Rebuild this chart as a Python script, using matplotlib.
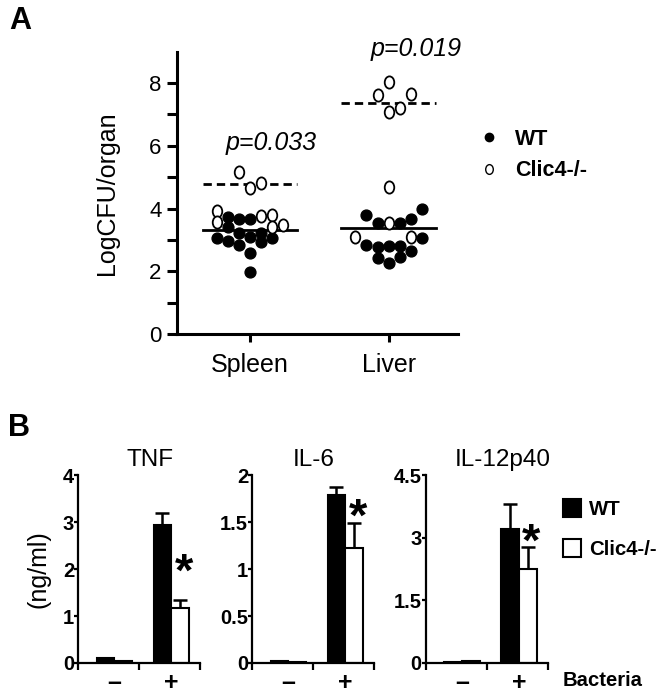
"""Figura: carga bacteriana en bazo/hígado (A) y citocinas (B), WT vs Clic4-/-."""

import matplotlib

matplotlib.use("Agg")
import matplotlib.pyplot as plt
import numpy as np
from matplotlib.lines import Line2D
from matplotlib.patches import Patch
from matplotlib.path import Path

plt.rcParams["font.family"] = ["Liberation Sans", "DejaVu Sans"]

# ---------------- Panel A: LogCFU/organ ----------------
organos = ["Spleen", "Liver"]

# columna del "beeswarm" (entero) y valor de cada ratón
spleen_wt_col = [-2, -1, 0, -2, -3, -2, -1, -1, 0, 0, 0, 1, 1, 2]
spleen_wt_y = [3.74, 3.68, 3.68, 3.42, 3.05, 2.97, 3.21, 2.83, 3.10, 2.59, 1.98, 3.21, 2.94, 3.05]
spleen_ko_col = [-3, -3, 1, 2, 2, 3, -1, 0, 1]
spleen_ko_y = [3.93, 3.58, 3.76, 3.79, 3.40, 3.47, 5.17, 4.66, 4.83]
liver_wt_col = [-2, -1, 1, 2, 3, 3, -2, -1, 0, 1, 2, -1, 0, 1]
liver_wt_y = [3.79, 3.54, 3.54, 3.65, 4.00, 3.05, 2.83, 2.76, 2.80, 2.80, 2.65, 2.41, 2.27, 2.44]
liver_ko_col = [0, 0, -3, 2, 0, -1, 2, 0, 1]
liver_ko_y = [4.69, 3.54, 3.10, 3.10, 8.04, 7.61, 7.64, 7.08, 7.22]

linea_wt = [3.33, 3.39]   # línea continua (WT)
linea_ko = [4.77, 7.37]   # línea discontinua (Clic4-/-)
p_valores = ["p=0.033", "p=0.019"]

# ---------------- Panel B: citocinas ----------------
bacterias = ["\u2013", "+"]
citocinas = ["TNF", "IL-6", "IL-12p40"]
wt_media = {"TNF": [0.10, 2.93], "IL-6": [0.02, 1.79], "IL-12p40": [0.02, 3.22]}
wt_err = {"TNF": [0.0, 0.27], "IL-6": [0.0, 0.08], "IL-12p40": [0.0, 0.60]}
ko_media = {"TNF": [0.05, 1.18], "IL-6": [0.01, 1.23], "IL-12p40": [0.04, 2.25]}
ko_err = {"TNF": [0.0, 0.17], "IL-6": [0.0, 0.26], "IL-12p40": [0.0, 0.52]}
yticks_b = {"TNF": [0, 1, 2, 3, 4], "IL-6": [0, 0.5, 1, 1.5, 2], "IL-12p40": [0, 1.5, 3, 4.5]}
ytick_lbl = {"TNF": ["0", "1", "2", "3", "4"], "IL-6": ["0", "0.5", "1", "1.5", "2"],
             "IL-12p40": ["0", "1.5", "3", "4.5"]}
estrella_y = {"TNF": 2.1, "IL-6": 1.64, "IL-12p40": 3.09}
titulo_x = {"TNF": 0.59, "IL-6": 0.5, "IL-12p40": 0.63}

# marcador elíptico abierto (los círculos abiertos son algo más altos que anchos)
circ = Path.unit_circle()
elipse = Path(circ.vertices * np.array([0.78, 1.0]), circ.codes)

fig = plt.figure(figsize=(6.64, 7.0), dpi=100)

# ================= Panel A =================
axA = fig.add_axes([0.2666, 0.523, 0.4232, 0.403])
paso = 0.08
for i, (wc, wy, kc, ky) in enumerate([
    (spleen_wt_col, spleen_wt_y, spleen_ko_col, spleen_ko_y),
    (liver_wt_col, liver_wt_y, liver_ko_col, liver_ko_y),
]):
    xc = i + 1
    axA.plot(xc + paso * np.array(wc), wy, "o", ms=7.8, color="black", zorder=3)
    axA.plot(xc + paso * np.array(kc), ky, ls="none", marker=elipse, ms=8.8,
             mfc="white", mec="black", mew=1.3, zorder=4)
    axA.plot([xc - 0.34, xc + 0.34], [linea_wt[i]] * 2, color="black", lw=2, zorder=2)
    axA.plot([xc - 0.34, xc + 0.34], [linea_ko[i]] * 2, color="black", lw=2,
             ls=(0, (3, 1.8)), zorder=2)

axA.text(1.15, 6.08, p_valores[0], style="italic", fontsize=18, ha="center", va="center")
axA.text(2.2, 9.1, p_valores[1], style="italic", fontsize=18, ha="center", va="center",
         clip_on=False)

axA.set_xlim(0.475, 2.5)
axA.set_ylim(0, 9)
axA.set_xticks([1, 2])
axA.set_xticklabels(organos, fontsize=18)
axA.set_yticks([0, 2, 4, 6, 8])
axA.set_yticks([1, 3, 5, 7], minor=True)
axA.tick_params(axis="y", labelsize=16, width=2.2, length=7, pad=4)
axA.tick_params(axis="y", which="minor", width=2.2, length=7)
axA.tick_params(axis="x", width=2.2, length=6, pad=8)
axA.set_ylabel("LogCFU/organ", fontsize=18, labelpad=22)
for s in ["top", "right"]:
    axA.spines[s].set_visible(False)
for s in ["left", "bottom"]:
    axA.spines[s].set_linewidth(2.2)

leyA = [
    Line2D([], [], ls="none", marker="o", ms=6, color="black", label="WT"),
    Line2D([], [], ls="none", marker=elipse, ms=7, mfc="white", mec="black", mew=1,
           label="Clic4-/-"),
]
fig.legend(handles=leyA, loc="center left", bbox_to_anchor=(467 / 664, 1 - 155 / 700),
           frameon=False, handlelength=1.0, handletextpad=0.75, labelspacing=0.5,
           borderpad=0, prop={"weight": "bold", "size": 15.5})

fig.text(20 / 664, 1 - 21 / 700, "A", fontsize=22, fontweight="bold", ha="center", va="center")
fig.text(19 / 664, 1 - 428 / 700, "B", fontsize=22, fontweight="bold", ha="center", va="center")

# ================= Panel B =================
izq = [78.3, 252.3, 426.0]
x = np.arange(len(bacterias))
ancho = 0.31
for j, cit in enumerate(citocinas):
    ax = fig.add_axes([izq[j] / 664, 0.053, 122 / 664, 0.268])
    ax.bar(x - ancho / 2, wt_media[cit], ancho, color="black", edgecolor="black", lw=1.5,
           zorder=2)
    ax.bar(x + ancho / 2, ko_media[cit], ancho, color="white", edgecolor="black", lw=1.5,
           zorder=2)
    ax.errorbar(x - ancho / 2, wt_media[cit], yerr=[np.zeros(2), wt_err[cit]], fmt="none",
                ecolor="black", elinewidth=1.8, capsize=5, capthick=1.8, zorder=1)
    ax.errorbar(x + ancho / 2, ko_media[cit], yerr=[np.zeros(2), ko_err[cit]], fmt="none",
                ecolor="black", elinewidth=1.8, capsize=5, capthick=1.8, zorder=1)
    ax.annotate("*", (1.22, estrella_y[cit]), xytext=(0, -7), textcoords="offset points",
                fontsize=34, fontweight="bold", ha="center", va="center")
    ax.text(titulo_x[cit], 1.08, cit, transform=ax.transAxes, fontsize=17.5,
            ha="center", va="center")

    ax.set_xlim(-0.63, 1.51)
    ax.set_ylim(0, yticks_b[cit][-1])
    ax.set_xticks([-0.63, 0.44, 1.51])
    ax.set_xticklabels([])
    ax.set_xticks(x, minor=True)
    ax.set_xticklabels(bacterias, minor=True, fontsize=18, fontweight="bold")
    ax.tick_params(axis="x", which="minor", length=0, pad=6)
    ax.tick_params(axis="x", which="major", width=1.6, length=5)
    ax.set_yticks(yticks_b[cit])
    ax.set_yticklabels(ytick_lbl[cit], fontweight="bold", fontsize=14.5)
    ax.tick_params(axis="y", width=1.6, length=3, pad=0)
    for s in ["top", "right"]:
        ax.spines[s].set_visible(False)
    for s in ["left", "bottom"]:
        ax.spines[s].set_linewidth(1.6)
    ax.spines["left"].set_zorder(3)
    if j == 0:
        ax.set_ylabel("(ng/ml)", fontsize=18, labelpad=9)
    if j == 2:
        ax.text(1.12, -0.095, "Bacteria", transform=ax.transAxes, fontsize=14.6,
                fontweight="bold", ha="left", va="center")

leyB = [Patch(facecolor="black", edgecolor="black", lw=1.5, label="WT"),
        Patch(facecolor="white", edgecolor="black", lw=1.5, label="Clic4-/-")]
fig.legend(handles=leyB, loc="center left", bbox_to_anchor=(553 / 664, 1 - 529 / 700),
           frameon=False, handlelength=0.85, handleheight=0.95, handletextpad=0.4,
           labelspacing=1.0, borderpad=0, prop={"weight": "bold", "size": 14.7})

fig.savefig("out.png", dpi=100)
